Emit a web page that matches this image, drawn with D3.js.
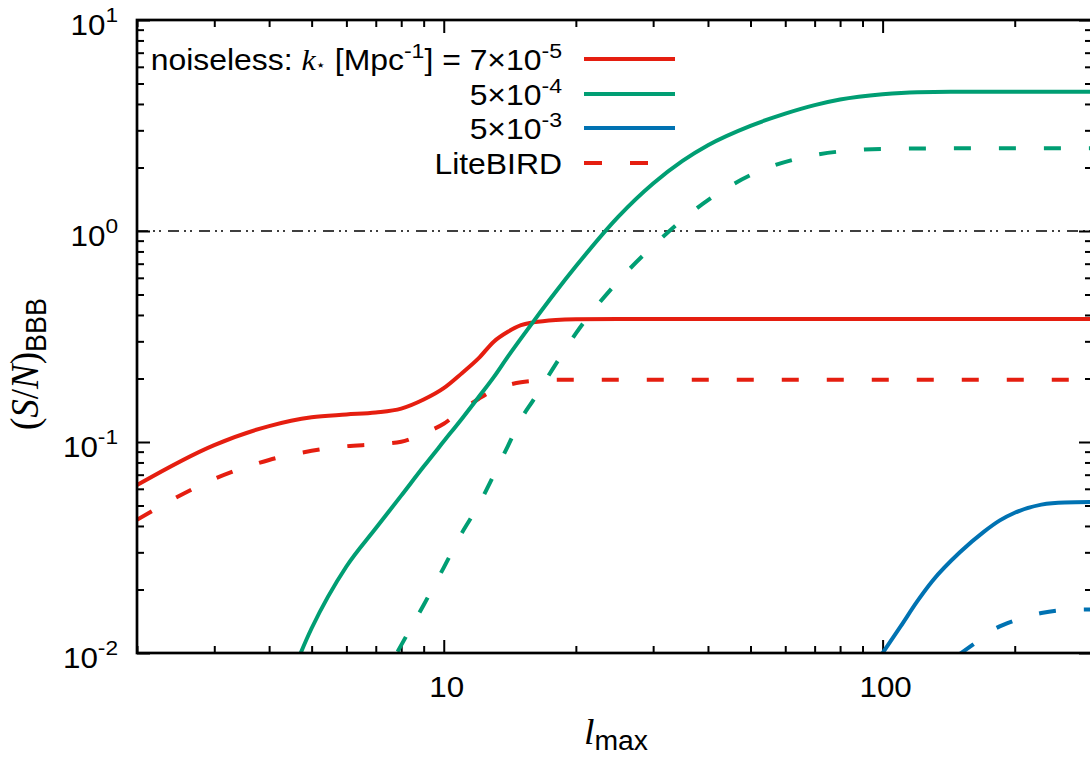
<!DOCTYPE html>
<meta charset="utf-8">
<head>
    <style>
        body { margin: 0; background: #fff; }
        text { font-family: "Liberation Sans", Arial, sans-serif; fill: #000; }
    </style>
    <script src="https://d3js.org/d3.v7.min.js"></script>
</head>
<div id="my_dataviz"></div>

<script>

// multipoles l_max and signal-to-noise
var ellRed = [2,3,4,5,6,7,8,9,10,11,12,13,14,15,16,18,20,25,30,40,50,70,100,150,200,300];
var snRed = [0.0625,0.0967,0.119,0.131,0.135,0.138,0.144,0.159,0.18,0.212,0.249,0.299,0.333,0.358,0.369,0.379,0.382,0.383,0.383,0.383,0.383,0.383,0.383,0.383,0.383,0.383];
var snRedLB = [0.0428,0.0668,0.0822,0.0908,0.0955,0.0975,0.1003,0.110,0.122,0.142,0.160,0.176,0.186,0.192,0.195,0.197,0.197,0.197,0.197,0.197,0.197,0.197,0.197,0.197,0.197,0.197];

var ellGreen = [4,5,6,7,8,9,10,11,12,13,14,15,16,18,20,25,30,35,40,50,60,70,80,100,120,150,200,300];
var snGreen = [0.00414,0.0131,0.0257,0.039,0.0557,0.0765,0.1007,0.129,0.163,0.203,0.254,0.31,0.372,0.515,0.68,1.17,1.68,2.15,2.55,3.15,3.6,3.95,4.2,4.45,4.55,4.57,4.57,4.57];

var ellGreenLB = [7,8,9,10,11,12,13,14,15,16,18,20,25,30,40,50,70,100,150,200,300];
var snGreenLB = [0.0066,0.0109,0.0169,0.0254,0.0371,0.0501,0.0698,0.0957,0.1285,0.158,0.234,0.327,0.58,0.85,1.40,1.84,2.29,2.45,2.466,2.466,2.466];

var ellBlue = [100,110,120,130,150,170,185,200,230,260,300];
var snBlue = [0.01,0.0134,0.0176,0.022,0.030,0.0375,0.0425,0.0462,0.0505,0.0517,0.0519];

var ellBlueLB = [150,160,180,200,230,260,300];
var snBlueLB = [0.0099,0.0109,0.013,0.01426,0.01547,0.016,0.0161];

var legendKeys = ["7", "5", "5", "LiteBIRD"];
var legendExps = ["-5", "-4", "-3", ""];

var xMajor = [10, 100];
var yMajor = [0.01, 0.1, 1, 10];

var red = "#e51e10", green = "#009e73", blue = "#0072b2";

var width = 1090, height = 760;
var pLeft = 137, pRight = 1092, pTop = 20, pBottom = 653;

var x = d3.scaleLog().domain([2, 300]).range([pLeft, pRight]);
var y = d3.scaleLog().domain([0.01, 10]).range([pBottom, pTop]);

var xMinor = [], yMinor = [];
[1, 10, 100].forEach(function(d) { for (var i = 2; i <= 9; i++) if (d * i <= 300 && d * i >= 2) xMinor.push(d * i); });
[0.01, 0.1, 1].forEach(function(d) { for (var i = 2; i <= 9; i++) yMinor.push(d * i); });

var svg = d3.select("#my_dataviz")
  .append("svg")
    .attr("width", width)
    .attr("height", height);

svg.append("clipPath").attr("id", "plotclip")
  .append("rect")
    .attr("x", pLeft).attr("y", pTop)
    .attr("width", pRight - pLeft).attr("height", pBottom - pTop);

// ticks on all four sides, pointing inwards
function ticks(axis, tr, vals, size) {
    var g = svg.append("g")
        .attr("transform", tr)
        .call(axis.tickValues(vals).tickSize(size).tickFormat(""));
    g.select(".domain").remove();
    g.selectAll("line").attr("stroke", "#000").attr("stroke-width", 2);
}
ticks(d3.axisBottom(x), "translate(0," + pBottom + ")", xMajor, -13);
ticks(d3.axisBottom(x), "translate(0," + pBottom + ")", xMinor, -7);
ticks(d3.axisTop(x), "translate(0," + pTop + ")", xMajor, -13);
ticks(d3.axisTop(x), "translate(0," + pTop + ")", xMinor, -7);
ticks(d3.axisLeft(y), "translate(" + pLeft + ",0)", yMajor, -13);
ticks(d3.axisLeft(y), "translate(" + pLeft + ",0)", yMinor, -7);
ticks(d3.axisRight(y), "translate(" + pRight + ",0)", yMajor, -13);
ticks(d3.axisRight(y), "translate(" + pRight + ",0)", yMinor, -7);

// S/N = 1 reference line
svg.append("line")
    .attr("x1", pLeft).attr("x2", pRight)
    .attr("y1", y(1)).attr("y2", y(1))
    .attr("stroke", "#000")
    .attr("stroke-width", 1.3)
    .attr("stroke-dasharray", "11,5,2,4,2,7");

var line = d3.line()
    .x(function(d) { return x(d[0]); })
    .y(function(d) { return y(d[1]); })
    .curve(d3.curveMonotoneX);

function series(ell, sn, color, dashed) {
    svg.append("path")
        .datum(d3.zip(ell, sn))
        .attr("clip-path", "url(#plotclip)")
        .attr("fill", "none")
        .attr("stroke", color)
        .attr("stroke-width", 4)
        .attr("stroke-dasharray", dashed ? "17,28" : null)
        .attr("d", line);
}
series(ellRed, snRed, red, false);
series(ellRed, snRedLB, red, true);
series(ellGreen, snGreen, green, false);
series(ellGreenLB, snGreenLB, green, true);
series(ellBlue, snBlue, blue, false);
series(ellBlueLB, snBlueLB, blue, true);

// frame
svg.append("rect")
    .attr("x", pLeft).attr("y", pTop)
    .attr("width", pRight - pLeft).attr("height", pBottom - pTop)
    .attr("fill", "none")
    .attr("stroke", "#000")
    .attr("stroke-width", 2.7);

function stext(px, py, anchor, sx) {
    return svg.append("text")
        .attr("transform", "translate(" + px + "," + py + ") scale(" + sx + ",1)")
        .attr("text-anchor", anchor);
}

// tick labels
yMajor.forEach(function(v) {
    var t = stext(118, y(v) + 15, "end", 1.08).style("font-size", "29px");
    t.append("tspan").text("10");
    t.append("tspan").attr("dy", -13).style("font-size", "21px").text(String(Math.round(Math.log10(v))));
});
xMajor.forEach(function(v) {
    stext(x(v) + 3, 697, "middle", 1.08).style("font-size", "29px").text(String(v));
});

// axis labels
var xl = stext(616, 744, "middle", 1.05);
xl.append("tspan").style("font-family", "Liberation Serif").style("font-style", "italic").style("font-size", "36px").text("l");
xl.append("tspan").attr("dy", 6).style("font-size", "27px").text("max");

var yl = svg.append("text")
    .attr("transform", "translate(38,430) scale(1.1,1) rotate(-90)")
    .attr("text-anchor", "start");
yl.append("tspan").style("font-family", "Liberation Serif").style("font-size", "37px").text("(");
yl.append("tspan").style("font-family", "Liberation Serif").style("font-style", "italic").style("font-size", "37px").text("S");
yl.append("tspan").style("font-family", "Liberation Serif").style("font-size", "37px").text("/");
yl.append("tspan").style("font-family", "Liberation Serif").style("font-style", "italic").style("font-size", "37px").text("N");
yl.append("tspan").style("font-family", "Liberation Serif").style("font-size", "37px").text(")");
yl.append("tspan").attr("dy", 7).style("font-size", "27px").text("BBB");

// legend
var rowY = [59, 94, 128, 163];
var rowColor = [red, green, blue, red];
legendKeys.forEach(function(k, i) {
    var t = stext(562, rowY[i] + 11, "end", 1.1).style("font-size", "29px");
    if (i === 0) {
        t.append("tspan").text("noiseless: ");
        t.append("tspan").style("font-family", "Liberation Serif").style("font-style", "italic").text("k");
        t.append("tspan").style("font-family", "DejaVu Sans").style("font-size", "15px").text("\u22c6");
        t.append("tspan").text(" [Mpc");
        t.append("tspan").attr("dy", -12).style("font-size", "21px").text("-1");
        t.append("tspan").attr("dy", 12).text("] = ");
    }
    if (legendExps[i]) {
        t.append("tspan").text(k + "\u00d710");
        t.append("tspan").attr("dy", -12).style("font-size", "21px").text(legendExps[i]);
    } else {
        t.append("tspan").text(k);
    }
    svg.append("line")
        .attr("x1", 584).attr("x2", 675)
        .attr("y1", rowY[i]).attr("y2", rowY[i])
        .attr("stroke", rowColor[i])
        .attr("stroke-width", 4)
        .attr("stroke-dasharray", i === 3 ? "18,28" : null);
});

</script>
